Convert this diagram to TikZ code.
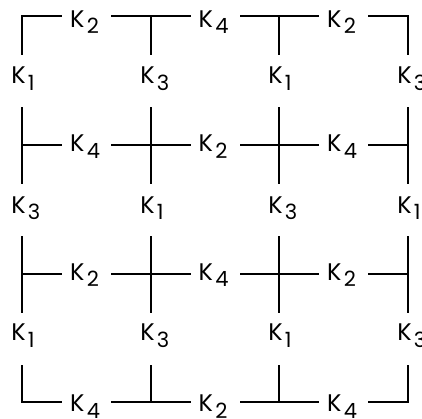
\documentclass[tikz,border=0pt]{standalone}
\usepackage{fontspec}
\setmainfont{Poppins}
\newcommand{\Klab}[1]{K\kern2.2pt\raisebox{-6.5pt}{\fontsize{21}{21}\selectfont #1}}
\tikzset{
  hedge/.style={line width=2pt, line cap=rect, dash pattern=on 38.7pt off 51pt on 200pt},
  vedge/.style={line width=2pt, line cap=rect, dash pattern=on 38pt off 53.7pt on 200pt},
  lab/.style={anchor=base west, inner sep=0pt, font=\fontsize{24}{24}\selectfont}
}
\begin{document}
\begin{tikzpicture}[x=1pt,y=-1pt]
\useasboundingbox (0,0) rectangle (422,418);
% vertices
\foreach \r/\y in {0/16,1/145,2/274,3/402}{
  \foreach \c/\x in {0/22,1/151,2/279,3/408}{
    \coordinate (v-\r-\c) at (\x,\y);
  }
}
% horizontal edges
\foreach \r in {0,1,2,3}{
  \foreach \c/\d in {0/1,1/2,2/3}{
    \draw[hedge] (v-\r-\c) -- (v-\r-\d);
  }
}
% vertical edges
\foreach \r/\s in {0/1,1/2,2/3}{
  \foreach \c in {0,1,2,3}{
    \draw[vedge] (v-\r-\c) -- (v-\s-\c);
  }
}
% horizontal labels
\foreach \r/\b/\la/\lb/\lc in {0/27.3/2/4/2, 1/151.7/4/2/4, 2/280/2/4/2, 3/411.5/4/2/4}{
  \node[lab] (h-\r-0) at (86.5-16.5,\b) {\Klab{\la}};
  \node[lab] (h-\r-1) at (215-16.5,\b) {\Klab{\lb}};
  \node[lab] (h-\r-2) at (343.5-16.5,\b) {\Klab{\lc}};
}
% vertical labels
\foreach \r/\b/\la/\lb/\lc/\ld in {0/83.5/1/3/1/3, 1/213/3/1/3/1, 2/340.5/1/3/1/3}{
  \node[lab] (w-\r-0) at (22-10.8,\b) {\Klab{\la}};
  \node[lab] (w-\r-1) at (151-10.8,\b) {\Klab{\lb}};
  \node[lab] (w-\r-2) at (279-10.8,\b) {\Klab{\lc}};
  \node[lab] (w-\r-3) at (408-10.8,\b) {\Klab{\ld}};
}
\end{tikzpicture}
\end{document}
